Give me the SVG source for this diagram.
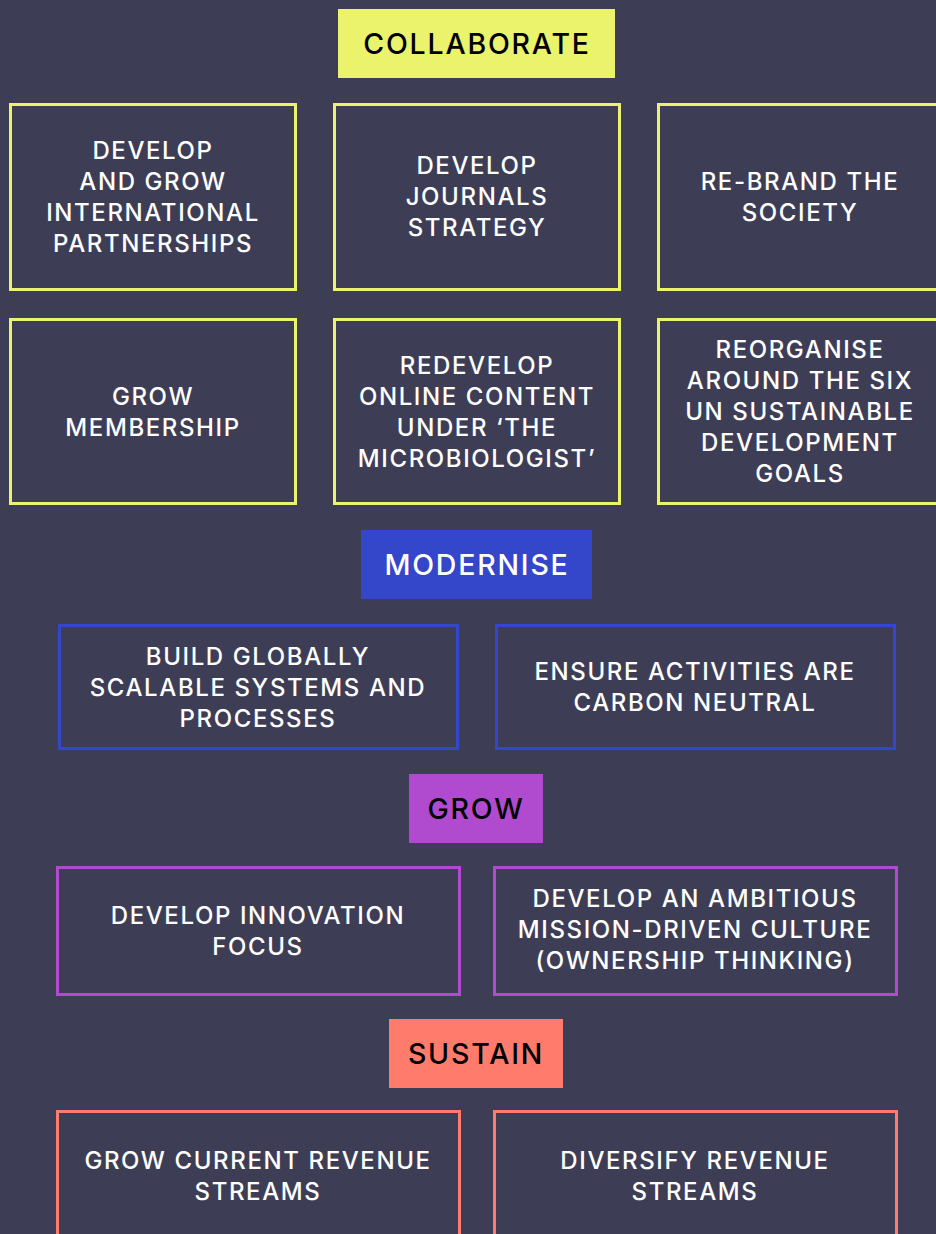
<svg xmlns="http://www.w3.org/2000/svg" width="936" height="1234" viewBox="0 0 936 1234">
<style>
.bg{fill:#3d3e56}
.box{fill:none;stroke-width:3}
.y{stroke:#ebf26b}
.b{stroke:#3446c9}
.p{stroke:#b04bd0}
.s{stroke:#ff7c6c}
.t{font-family:Inter,"Liberation Sans",sans-serif;font-size:24px;font-weight:500;fill:#ffffff;text-anchor:middle;letter-spacing:1.6px}
.h{font-family:Inter,"Liberation Sans",sans-serif;font-size:28.5px;font-weight:500;text-anchor:middle;letter-spacing:1.8px}
</style>
<rect class="bg" x="0" y="0" width="936" height="1234"/>
<g id="connectors"></g>
<g id="collaborate">
<rect x="338" y="9" width="277" height="69" fill="#ebf26b"/>
<text class="h" x="477" y="54" fill="#000">COLLABORATE</text>
</g>
<g id="c1"><rect class="box y" x="10.5" y="104.5" width="285" height="185"/>
<text class="t" x="153" y="159">DEVELOP</text><text class="t" x="153" y="190">AND GROW</text><text class="t" x="153" y="221">INTERNATIONAL</text><text class="t" x="153" y="252">PARTNERSHIPS</text></g>
<g id="c2"><rect class="box y" x="334.5" y="104.5" width="285" height="185"/>
<text class="t" x="477" y="174">DEVELOP</text><text class="t" x="477" y="205">JOURNALS</text><text class="t" x="477" y="236">STRATEGY</text></g>
<g id="c3"><rect class="box y" x="658.5" y="104.5" width="285" height="185"/>
<text class="t" x="800" y="190">RE-BRAND THE</text><text class="t" x="800" y="221">SOCIETY</text></g>
<g id="c4"><rect class="box y" x="10.5" y="319.5" width="285" height="184"/>
<text class="t" x="153" y="405">GROW</text><text class="t" x="153" y="436">MEMBERSHIP</text></g>
<g id="c5"><rect class="box y" x="334.5" y="319.5" width="285" height="184"/>
<text class="t" x="477" y="374">REDEVELOP</text><text class="t" x="477" y="405">ONLINE CONTENT</text><text class="t" x="477" y="436">UNDER ‘THE</text><text class="t" x="477" y="467">MICROBIOLOGIST’</text></g>
<g id="c6"><rect class="box y" x="658.5" y="319.5" width="285" height="184"/>
<text class="t" x="800" y="358">REORGANISE</text><text class="t" x="800" y="389">AROUND THE SIX</text><text class="t" x="800" y="420">UN SUSTAINABLE</text><text class="t" x="800" y="451">DEVELOPMENT</text><text class="t" x="800" y="482">GOALS</text></g>
<g id="modernise">
<rect x="361" y="530" width="231" height="69" fill="#3446c9"/>
<text class="h" x="477" y="575" fill="#fff">MODERNISE</text>
</g>
<g id="m1"><rect class="box b" x="59.5" y="625.5" width="398" height="123"/>
<text class="t" x="258" y="665">BUILD GLOBALLY</text><text class="t" x="258" y="696">SCALABLE SYSTEMS AND</text><text class="t" x="258" y="727">PROCESSES</text></g>
<g id="m2"><rect class="box b" x="496.5" y="625.5" width="398" height="123"/>
<text class="t" x="695" y="680">ENSURE ACTIVITIES ARE</text><text class="t" x="695" y="711">CARBON NEUTRAL</text></g>
<g id="grow">
<rect x="409" y="774" width="134" height="69" fill="#b04bd0"/>
<text class="h" x="476" y="819" fill="#000">GROW</text>
</g>
<g id="g1"><rect class="box p" x="57.5" y="867.5" width="402" height="127"/>
<text class="t" x="258" y="924">DEVELOP INNOVATION</text><text class="t" x="258" y="955">FOCUS</text></g>
<g id="g2"><rect class="box p" x="494.5" y="867.5" width="402" height="127"/>
<text class="t" x="695" y="907">DEVELOP AN AMBITIOUS</text><text class="t" x="695" y="938">MISSION-DRIVEN CULTURE</text><text class="t" x="695" y="969">(OWNERSHIP THINKING)</text></g>
<g id="sustain">
<rect x="389" y="1019" width="174" height="69" fill="#ff7c6c"/>
<text class="h" x="476" y="1064" fill="#000">SUSTAIN</text>
</g>
<g id="s1"><rect class="box s" x="57.5" y="1111.5" width="402" height="140"/>
<text class="t" x="258" y="1169">GROW CURRENT REVENUE</text><text class="t" x="258" y="1200">STREAMS</text></g>
<g id="s2"><rect class="box s" x="494.5" y="1111.5" width="402" height="140"/>
<text class="t" x="695" y="1169">DIVERSIFY REVENUE</text><text class="t" x="695" y="1200">STREAMS</text></g>
</svg>
